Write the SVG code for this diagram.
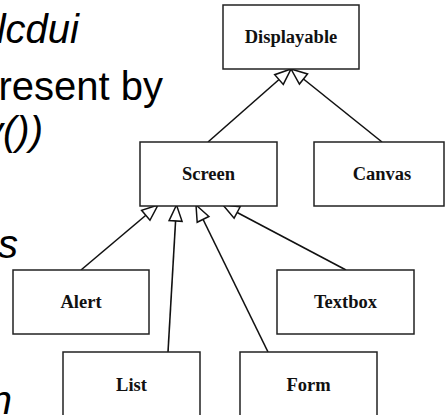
<svg xmlns="http://www.w3.org/2000/svg" width="446" height="415" viewBox="0 0 446 415">
<style>
.box{fill:#fff;stroke:#222;stroke-width:1.5}
.lbl{font-family:"Liberation Serif","Times New Roman",serif;font-weight:bold;font-size:18.5px;text-anchor:middle;fill:#111}
.big{font-family:"Liberation Sans",Arial,sans-serif;font-size:40px;fill:#000;text-anchor:end}
.it{font-style:italic}
.edge{stroke:#111;stroke-width:1.6;fill:none;marker-end:url(#tri)}
</style>
<defs>
<marker id="tri" markerUnits="userSpaceOnUse" markerWidth="20" markerHeight="20" viewBox="-18 -9 20 18" refX="0" refY="0" orient="auto">
<path d="M0,0 L-16,-6.5 L-16,6.5 Z" fill="#fff" stroke="#111" stroke-width="1.5" stroke-linejoin="miter"/>
</marker>
</defs>
<rect width="446" height="415" fill="#fff"/>
<g id="bgtext">
<text class="big it" x="79" y="43">lcdui</text>
<text class="big" x="163" y="100">resent by</text>
<text class="big it" x="43" y="145">y())</text>
<text class="big it" x="18" y="258">s</text>
<text class="big it" x="12" y="414">n</text>
</g>
<g id="connectors">
<line class="edge" x1="208" y1="142" x2="291" y2="69"/>
<line class="edge" x1="382" y1="142" x2="291" y2="69"/>
<line class="edge" x1="81" y1="270" x2="158" y2="205"/>
<line class="edge" x1="168" y1="352" x2="176.5" y2="205"/>
<line class="edge" x1="268" y1="352" x2="196" y2="205"/>
<line class="edge" x1="346" y1="270" x2="223" y2="205"/>
</g>
<g id="displayable"><rect class="box" x="223" y="5" width="136" height="64"/><text class="lbl" x="291" y="43">Displayable</text></g>
<g id="screen"><rect class="box" x="140" y="142" width="137" height="64"/><text class="lbl" x="208.5" y="180">Screen</text></g>
<g id="canvas"><rect class="box" x="314" y="142" width="130" height="64"/><text class="lbl" x="382" y="180">Canvas</text></g>
<g id="alert"><rect class="box" x="13" y="270" width="136" height="64"/><text class="lbl" x="81" y="308">Alert</text></g>
<g id="textbox"><rect class="box" x="277" y="270" width="137" height="64"/><text class="lbl" x="345.5" y="308">Textbox</text></g>
<g id="list"><rect class="box" x="63" y="352" width="137" height="66"/><text class="lbl" x="131.5" y="391">List</text></g>
<g id="form"><rect class="box" x="240" y="352" width="137" height="66"/><text class="lbl" x="308.5" y="391">Form</text></g>
</svg>
